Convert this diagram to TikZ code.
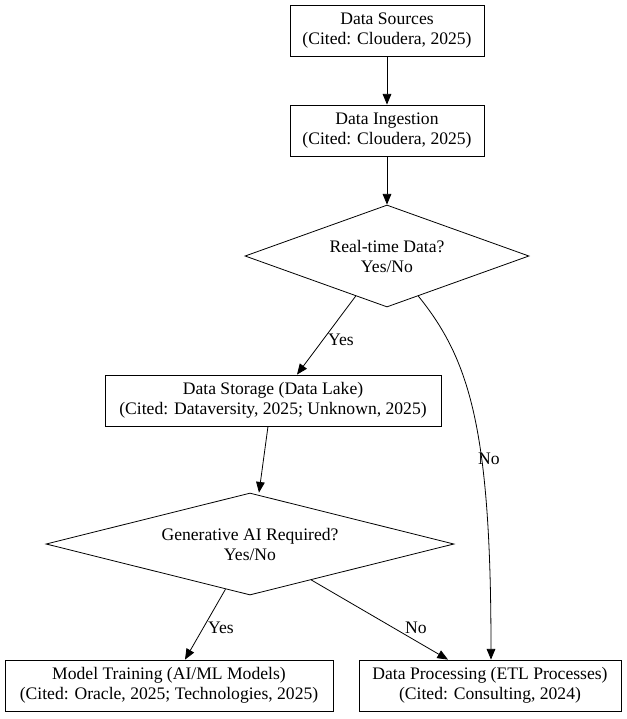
\documentclass[tikz,border=0pt]{standalone}
\usepackage{fontspec}
\setmainfont{Liberation Serif}
\usetikzlibrary{shapes.geometric,arrows.meta,calc}
\begin{document}
\begin{tikzpicture}[x=0.75pt,y=-0.75pt,
  every node/.style={font=\fontsize{13.2pt}{15pt}\selectfont, align=center},
  box/.style={draw, line width=0.6pt, inner sep=0pt},
  dec/.style={draw, line width=0.6pt, diamond, inner sep=0pt, minimum width=213pt, minimum height=76.5pt, aspect=2.78},
  arr/.style={-{Triangle[length=8pt,width=6.5pt]}, line width=0.6pt},
  lab/.style={inner sep=1pt}]
\useasboundingbox (0,0) rectangle (627,719);
\node[box, minimum width=145.5pt, minimum height=38.25pt] (src) at (387,30.5) {Data Sources\\(Cited: Cloudera, 2025)};
\node[box, minimum width=145.5pt, minimum height=38.25pt] (ing) at (387,130.5) {Data Ingestion\\(Cited: Cloudera, 2025)};
\node[dec] (rt) at (387,256) {Real-time Data?\\Yes/No};
\node[box, minimum width=252pt, minimum height=38.25pt] (sto) at (273,400.5) {Data Storage (Data Lake)\\(Cited: Dataversity, 2025; Unknown, 2025)};
\node[dec, minimum width=306pt, aspect=4] (gen) at (250,544) {Generative AI Required?\\Yes/No};
\node[box, minimum width=246pt, minimum height=38.25pt] (mod) at (169,685.5) {Model Training (AI/ML Models)\\(Cited: Oracle, 2025; Technologies, 2025)};
\node[box, minimum width=196.5pt, minimum height=38.25pt] (proc) at (490,685.5) {Data Processing (ETL Processes)\\(Cited: Consulting, 2024)};
\draw[arr] (src) -- (ing);
\draw[arr] (ing) -- (rt);
\draw[arr] ($(rt.south)!0.22!(rt.west)$) -- (sto.north -| 297,0);
\draw[arr] ($(rt.south)!0.22!(rt.east)$) .. controls (470,360) and (491,430) .. (proc.north -| 491,0);
\draw[arr] ($(sto.south)+(-5,0)$) -- (gen.north -| 259,0);
\draw[arr] ($(gen.south)!0.12!(gen.west)$) -- (mod.north -| 185,0);
\draw[arr] ($(gen.south)!0.3!(gen.east)$) -- (proc.north -| 448,0);
\node[lab] (l1) at (341,340) {Yes};
\node[lab] (l2) at (489,459) {No};
\node[lab] (l3) at (221,628) {Yes};
\node[lab] (l4) at (416,628) {No};
\end{tikzpicture}
\end{document}
